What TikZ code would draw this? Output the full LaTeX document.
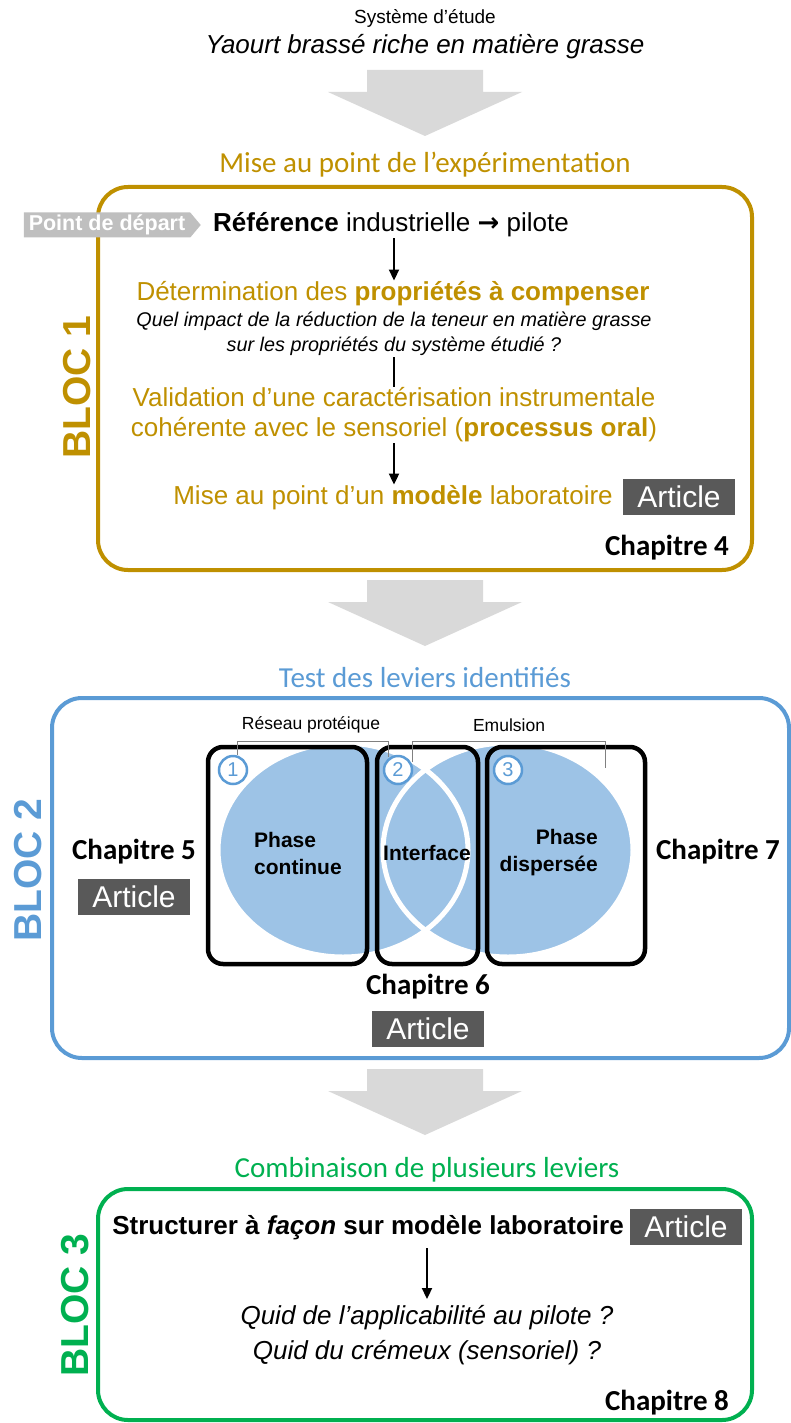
\documentclass[tikz,border=0pt]{standalone}
\usepackage{fontspec}
\setmainfont{Liberation Sans}
\newfontfamily\calibri{Carlito}
\newfontfamily\arrowfont{DejaVu Sans}
\usepackage{tikz}
\usetikzlibrary{arrows.meta, positioning, shapes.symbols}
\definecolor{blocgold}{RGB}{191,144,0}
\definecolor{blocblue}{RGB}{91,155,213}
\definecolor{phaseblue}{RGB}{157,195,230}
\definecolor{blocgreen}{RGB}{0,176,80}
\definecolor{flowgray}{RGB}{217,217,217}
\definecolor{artgray}{RGB}{89,89,89}
\definecolor{taggray}{RGB}{191,191,191}

\begin{document}
\begin{tikzpicture}[x=1pt, y=-1pt,
    txt/.style={inner sep=1pt, align=center, font=\fontsize{26}{30}\selectfont},
    title/.style={inner sep=1pt, font=\calibri\fontsize{29}{32}\selectfont},
    chap/.style={inner sep=1pt, font=\calibri\bfseries\fontsize{29}{32}\selectfont},
    article/.style={fill=artgray, text=white, inner sep=0, minimum width=112,
                    minimum height=36, font=\fontsize{30}{30}\selectfont},
    bloc/.style={rotate=90, inner sep=0, font=\bfseries\fontsize{39}{40}\selectfont},
    frame/.style={line width=4, rounded corners=30},
    phasebox/.style={line width=4.5, rounded corners=15},
    arr/.style={-{Triangle[length=11pt, width=10pt]}, line width=2},
    badge/.style={circle, draw=blocblue, line width=2.5, fill=white, text=blocblue,
                  minimum size=28, inner sep=0, font=\fontsize{20}{20}\selectfont},
    brace/.style={draw=gray, line width=1},
    phasetxt/.style={inner sep=1pt, font=\bfseries\fontsize{21}{27}\selectfont},
  ]
  \useasboundingbox (0,0) rectangle (791,1423);

  % big gray arrows between blocks
  \foreach \t in {70,580,1069}
    \fill[flowgray] (367,\t) -- (483,\t) -- (483,\t+22) -- (522,\t+22) -- (425,\t+66)
      -- (328,\t+22) -- (367,\t+22) -- cycle;

  \node[inner sep=1pt, font=\fontsize{19}{20}\selectfont] (sys) at (425,18) {Système d’étude};
  \node[txt, font=\itshape\fontsize{26}{30}\selectfont] (yaourt) at (425,47)
    {Yaourt brassé riche en matière grasse};

  % BLOC 1
  \node[title, text=blocgold] (title1) at (425,165) {Mise au point de l’expérimentation};
  \draw[frame, blocgold] (98,187) rectangle (752,570);
  \node[bloc, text=blocgold] (bloc1) at (77,387) {BLOC 1};
  \node[signal, signal to=east, signal pointer angle=100, fill=taggray, text=white,
        minimum height=25, inner ysep=1pt, inner xsep=5pt,
        font=\bfseries\fontsize{21.5}{22}\selectfont]
    (tag) at (107,225) {Point de départ};
  \node[txt] (ref) at (391,225) {\textbf{Référence} industrielle {\arrowfont\bfseries →} pilote};
  \node[txt, text=blocgold] (det) at (393,294) {Détermination des \textbf{propriétés à compenser}};
  \node[txt, font=\itshape\fontsize{19.8}{25}\selectfont] (quel) at (394,334)
    {Quel impact de la réduction de la teneur en matière grasse\\sur les propriétés du système étudié ?};
  \node[txt, text=blocgold] (valid) at (394,415)
    {Validation d’une caractérisation instrumentale\\cohérente avec le sensoriel (\textbf{processus oral})};
  \node[txt, text=blocgold] (modele) at (393,498) {Mise au point d’un \textbf{modèle} laboratoire};
  \node[article] (art4) at (679,497) {Article};
  \node[chap] (chap4) at (667,548) {Chapitre 4};
  \draw[arr] (ref.south -| valid.south) -- (det.north -| valid.south);
  \draw[line width=2] (quel.south -| valid.south) -- (valid.north);
  \draw[arr] (valid.south) -- (valid.south |- modele.north);

  % BLOC 2
  \node[title, text=blocblue] (title2) at (425,678) {Test des leviers identifiés};
  \draw[frame, blocblue] (52,698) rectangle (789,1058);
  \node[bloc, text=blocblue] (bloc2) at (28,870) {BLOC 2};
  \fill[phaseblue] (343,850) ellipse [x radius=125pt, y radius=107pt];
  \fill[phaseblue] (508,850) ellipse [x radius=125pt, y radius=107pt];
  \draw[white, line width=5] (343,850) ellipse [x radius=125pt, y radius=107pt];
  \draw[white, line width=5] (508,850) ellipse [x radius=125pt, y radius=107pt];
  \draw[phasebox] (208,747) rectangle (367,964);
  \draw[phasebox] (377,747) rectangle (478,964);
  \draw[phasebox] (487,747) rectangle (645,964);
  \node[inner sep=1pt, font=\fontsize{17.5}{18}\selectfont] (reseau) at (311,725) {Réseau protéique};
  \node[inner sep=1pt, font=\fontsize{17.5}{18}\selectfont] (emul) at (509,725) {Emulsion};
  \draw[brace] (237,755) -- (237,741) -- (388,741) -- (388,757);
  \draw[brace] (412,762) -- (412,741) -- (605,741) -- (605,768);
  \node[badge] (n1) at (233,770) {1};
  \node[badge] (n2) at (398,770) {2};
  \node[badge] (n3) at (508,770) {3};
  \node[phasetxt, align=left, anchor=west] (continue) at (253,853) {Phase\\continue};
  \node[phasetxt] (interface) at (427,853) {Interface};
  \node[phasetxt, align=right, anchor=east] (disperse) at (599,853) {Phase\\dispersée};
  \node[chap] (chap5) at (134,852) {Chapitre 5};
  \node[article, below=13pt of chap5] (art5) {Article};
  \node[chap] (chap7) at (718,852) {Chapitre 7};
  \node[chap] (chap6) at (428,987) {Chapitre 6};
  \node[article, below=10pt of chap6] (art6) {Article};

  % BLOC 3
  \node[title, text=blocgreen] (title3) at (427,1170) {Combinaison de plusieurs leviers};
  \draw[frame, blocgreen] (98,1189) rectangle (752,1420);
  \node[bloc, text=blocgreen] (bloc3) at (75,1305) {BLOC 3};
  \node[txt, font=\bfseries\fontsize{26}{30}\selectfont] (struct) at (368,1228)
    {Structurer à \textit{façon} sur modèle laboratoire};
  \node[article] (art8) at (686,1227) {Article};
  \node[txt, font=\itshape\fontsize{26}{35}\selectfont] (quid) at (427,1335)
    {Quid de l’applicabilité au pilote ?\\Quid du crémeux (sensoriel) ?};
  \node[chap] (chap8) at (667,1403) {Chapitre 8};
  \draw[arr, shorten <=7pt, shorten >=5pt] (quid.north |- struct.south) -- (quid.north);
\end{tikzpicture}
\end{document}
